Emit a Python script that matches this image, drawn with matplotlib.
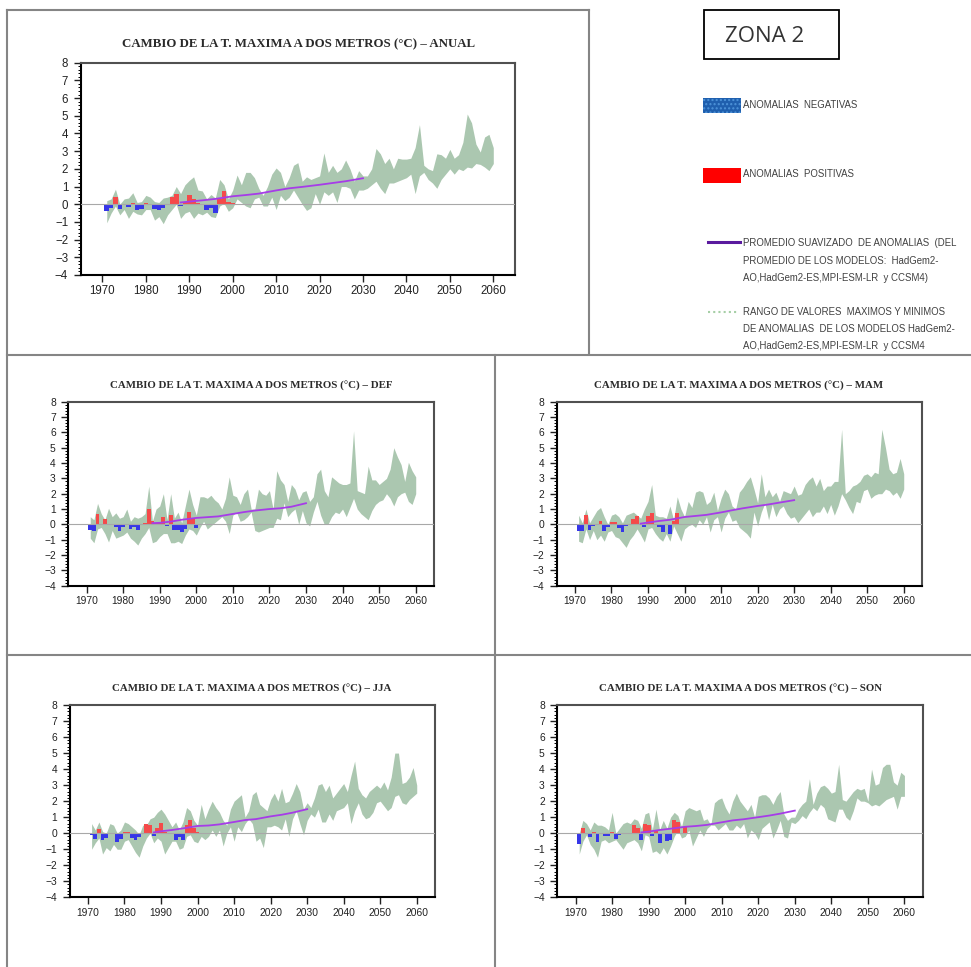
import numpy as np
import matplotlib.pyplot as plt
from matplotlib.lines import Line2D
from matplotlib.patches import Rectangle
from matplotlib.ticker import MultipleLocator

W, H = 971, 967

# ---- data ----
years_bar = list(range(1971, 2001))
years_band = list(range(1971, 2061))
years_smooth = [1988, 1990, 1993, 1996, 2000, 2003, 2006, 2010, 2013, 2016, 2020, 2023, 2026, 2030]

# ANUAL
bars_anual = [-0.4, -0.2, 0.4, -0.27, 0.0, -0.15, 0.05, -0.35, -0.25, 0.05,
              0.03, -0.25, -0.3, -0.2, 0.02, 0.4, 0.6, -0.1, 0.1, 0.5,
              0.3, 0.05, 0.0, -0.35, -0.2, -0.5, 0.3, 0.75, 0.15, 0.05]
hi_anual = [0.2, 0.3, 0.85, 0.0, 0.3, 0.35, 0.65, 0.1, 0.15, 0.5,
            0.4, 0.15, 0.1, 0.35, 0.4, 0.5, 1.0, 0.6, 1.1, 1.35,
            1.55, 0.8, 0.75, 0.3, 0.55, 0.35, 1.4, 1.1, 0.3, 0.8,
            1.65, 1.1, 1.8, 1.8, 1.5, 0.9, 0.5, 1.0, 1.7, 2.05,
            1.8, 1.0, 1.5, 2.2, 2.35, 1.3, 1.55, 1.4, 1.5, 1.6,
            2.9, 1.8, 2.2, 1.8, 2.0, 2.5, 2.0, 1.3, 1.9, 1.6,
            1.6, 2.0, 3.15, 2.85, 2.3, 2.6, 2.0, 2.6, 2.55, 2.55,
            2.6, 3.2, 4.5, 2.2, 2.0, 1.9, 2.85, 2.8, 2.6, 3.1,
            2.6, 2.8, 3.5, 5.1, 4.6, 3.4, 2.95, 3.8, 3.95, 3.2]
lo_anual = [-1.05, -0.5, -0.1, -0.6, -0.3, -0.8, -0.4, -0.55, -0.6, -0.3,
            -0.3, -0.9, -0.7, -1.1, -0.6, -0.3, 0.0, -0.8, -0.5, -0.4,
            -0.8, -0.5, -0.6, -0.45, -0.7, -0.75, -0.1, 0.05, -0.4, -0.2,
            0.3, 0.1, -0.1, -0.2, 0.3, 0.4, -0.1, -0.1, 0.4, -0.3,
            0.5, 0.2, 0.4, 0.8, 0.4, 0.0, -0.35, -0.2, 0.6, 0.0,
            0.7, 0.5, 0.7, 0.1, 1.0, 1.0, 0.9, 0.3, 0.8, 0.8,
            0.9, 1.1, 1.3, 0.9, 0.6, 1.2, 1.2, 1.3, 1.4, 1.5,
            1.7, 0.6, 1.6, 1.8, 1.4, 1.2, 0.9, 1.4, 1.7, 2.0,
            1.7, 2.0, 1.9, 2.1, 2.05, 2.3, 2.25, 2.1, 1.9, 2.3]
smooth_anual = [0.1, 0.15, 0.22, 0.3, 0.45, 0.52, 0.6, 0.78, 0.9, 0.98, 1.1, 1.2, 1.3, 1.47]

# DEF
bars_def = [-0.37, -0.45, 0.7, 0.0, 0.35, -0.05, 0.0, -0.2, -0.45, -0.2,
            0.0, -0.3, -0.15, -0.35, 0.0, 0.1, 1.0, 0.2, 0.1, 0.1,
            0.5, -0.1, 0.6, -0.35, -0.35, -0.5, -0.3, 0.8, 0.4, -0.25]
hi_def = [0.5, 0.3, 1.37, 0.7, 0.3, 1.05, 0.5, 0.75, 0.4, 0.5,
          1.0, 0.2, 0.5, 0.4, 0.5, 0.7, 2.5, 0.2, 1.0, 1.2,
          2.0, 0.3, 2.0, 0.4, 0.8, 0.1, 1.2, 2.3, 1.3, 0.6,
          1.8, 1.8, 1.7, 1.9, 1.6, 1.4, 1.0, 1.7, 3.1, 1.9,
          1.8, 1.3, 2.0, 2.3, 1.0, 1.0, 2.3, 2.0, 1.9, 2.2,
          1.0, 3.5, 2.9, 2.6, 1.5, 2.6, 2.3, 1.6, 2.1, 2.2,
          1.5, 1.8, 3.3, 3.6, 2.2, 1.8, 3.1, 2.9, 2.7, 2.6,
          2.6, 2.7, 6.1, 2.2, 2.1, 2.0, 3.8, 2.9, 2.9, 2.6,
          2.8, 3.0, 3.6, 5.0, 4.4, 3.9, 2.8, 4.05, 3.5, 3.1]
lo_def = [-0.9, -1.2, -0.3, -0.2, -0.6, -1.15, -0.4, -0.9, -0.8, -0.7,
          -0.5, -0.9, -1.1, -1.35, -0.9, -0.6, -0.2, -1.2, -1.1, -0.8,
          -0.6, -0.6, -1.2, -1.2, -1.1, -1.25, -0.7, -0.3, -0.4, -0.7,
          -0.2, 0.2, -0.3, -0.1, 0.1, 0.3, 0.5, 0.2, -0.6, 0.6,
          0.8, 0.2, 0.3, 0.5, 0.8, -0.4, -0.5, -0.4, -0.3, -0.2,
          -0.2, 0.4, 0.3, 1.4, 0.5, 0.8, 1.0, 0.0, 0.9, 0.1,
          -0.1, 0.8, 1.5, 0.6, 0.0, 0.0, 0.5, 0.8, 0.7, 1.0,
          0.5, 1.1, 1.7, 1.0, 0.7, 0.5, 0.3, 0.9, 1.3, 1.5,
          1.6, 2.0, 1.7, 1.2, 1.8, 2.0, 2.1, 1.5, 1.3, 2.0]
smooth_def = [0.08, 0.1, 0.18, 0.3, 0.42, 0.47, 0.52, 0.68, 0.8, 0.9, 1.0, 1.05, 1.15, 1.38]

# MAM
bars_mam = [-0.45, -0.4, 0.6, -0.35, -0.1, 0.0, 0.2, -0.45, -0.2, 0.15,
            0.15, -0.25, -0.5, -0.1, 0.0, 0.35, 0.55, 0.05, -0.15, 0.55,
            0.75, 0.0, -0.2, -0.5, 0.0, -0.6, 0.2, 0.75, 0.0, 0.05]
hi_mam = [0.6, 0.1, 1.0, 0.1, 0.5, 0.9, 1.1, 0.5, 0.0, 0.6,
          0.7, 0.5, 0.1, 0.6, 0.7, 0.8, 0.6, 0.4, 1.0, 1.5,
          2.6, 0.6, 0.5, 0.5, 0.4, 1.2, 0.3, 1.8, 1.0, 0.5,
          1.5, 1.1, 2.1, 2.2, 2.1, 1.3, 1.5, 2.1, 0.9, 1.7,
          2.3, 2.0, 1.2, 1.0, 2.1, 2.4, 2.8, 3.1, 2.3, 1.4,
          3.3, 1.8, 2.3, 1.8, 2.1, 1.5, 2.2, 2.1, 2.0, 2.5,
          1.9, 2.0, 2.6, 2.9, 3.1, 2.5, 3.0, 2.2, 2.5, 2.5,
          2.8, 2.8, 6.2, 2.0, 2.2, 2.5, 2.6, 2.8, 3.2, 3.3,
          3.1, 3.4, 3.3, 6.2, 5.0, 3.6, 3.3, 3.4, 4.3, 3.3]
lo_mam = [-1.1, -1.2, -0.3, -1.0, -0.4, -1.0, -0.7, -1.1, -0.5, -0.4,
          -0.8, -0.9, -1.2, -1.5, -1.0, -0.7, -0.3, -0.7, -1.15, -0.3,
          -0.2, -0.6, -0.9, -1.1, -0.6, -1.1, -0.1, -0.6, -1.1, -0.3,
          -0.1, 0.0, -0.2, 0.3, 0.0, 0.5, -0.5, 0.3, 0.5, -0.5,
          0.4, 0.8, 0.2, 0.3, -0.2, -0.4, -0.6, -0.9, 0.8, -0.1,
          0.8, 1.4, 0.3, 1.3, 0.5, 1.0, 1.2, 0.7, 0.4, 0.5,
          0.1, 0.4, 0.7, 1.0, 0.5, 0.8, 0.8, 1.2, 0.7, 1.3,
          0.6, 1.2, 2.0, 1.6, 1.1, 0.7, 1.5, 1.4, 2.2, 2.3,
          1.7, 1.9, 2.0, 2.0, 2.3, 2.2, 1.9, 2.1, 1.7, 2.3]
smooth_mam = [0.05, 0.12, 0.22, 0.3, 0.48, 0.55, 0.62, 0.78, 0.92, 1.05, 1.2, 1.3, 1.42, 1.58]

# JJA
bars_jja = [-0.1, -0.35, 0.25, -0.45, -0.3, 0.0, -0.05, -0.55, -0.35, 0.1,
            0.05, -0.3, -0.45, -0.25, 0.0, 0.6, 0.5, -0.15, 0.3, 0.65,
            0.1, 0.0, 0.0, -0.4, -0.25, -0.45, 0.5, 0.8, 0.35, 0.1]
hi_jja = [0.6, 0.2, 0.7, 0.1, 0.0, 0.6, 0.5, 0.0, 0.2, 0.7,
          0.6, 0.4, 0.2, -0.1, 0.5, 0.5, 0.9, 1.0, 1.3, 1.5,
          1.2, 0.8, 0.4, 0.7, 0.2, 0.7, 1.6, 1.4, 0.8, 0.5,
          1.8, 0.9, 1.5, 2.0, 1.6, 1.3, 0.8, 0.5, 1.5, 2.0,
          2.2, 2.4, 1.0, 1.4, 2.4, 2.6, 1.8, 1.6, 1.4, 2.1,
          2.5, 2.0, 2.8, 1.9, 2.0, 2.5, 3.1, 2.6, 1.5, 1.9,
          1.6, 2.2, 3.0, 3.1, 2.6, 3.0, 2.2, 2.5, 2.8, 3.1,
          2.6, 3.6, 4.5, 2.8, 2.4, 2.2, 2.6, 2.8, 3.0, 2.8,
          3.2, 2.7, 3.5, 5.0, 5.0, 3.1, 3.2, 3.5, 4.1, 3.0]
lo_jja = [-1.0, -0.6, -0.3, -1.3, -0.9, -1.1, -0.7, -1.0, -1.0, -0.5,
          -0.4, -0.8, -1.2, -1.5, -0.8, -0.3, 0.0, -0.6, -0.3, -0.5,
          -1.3, -0.9, -0.5, -0.5, -1.0, -0.9, -0.2, -0.1, -0.5, -0.6,
          -0.2, -0.4, -0.2, 0.2, -0.2, 0.2, -0.8, 0.0, 0.4, -0.5,
          0.4, 0.1, 0.6, 0.9, 0.6, -0.5, -0.3, -0.9, 0.4, 0.4,
          0.5, 0.4, 0.2, 0.9, -0.2, 0.9, 1.4, 0.6, -0.1, 0.8,
          1.2, 1.0, 1.5, 0.7, 0.7, 1.2, 0.8, 1.4, 1.5, 1.6,
          1.9, 0.6, 1.4, 1.9, 1.2, 0.9, 1.0, 1.3, 1.9, 2.0,
          1.7, 1.4, 1.6, 2.3, 2.4, 1.9, 1.8, 2.1, 2.3, 2.5]
smooth_jja = [0.05, 0.12, 0.2, 0.3, 0.45, 0.48, 0.55, 0.7, 0.82, 0.88, 1.05, 1.15, 1.28, 1.5]

# SON
bars_son = [-0.7, 0.35, 0.0, -0.25, 0.05, -0.55, 0.0, -0.15, -0.15, 0.1,
            -0.35, -0.1, -0.05, -0.05, 0.0, 0.5, 0.3, -0.4, 0.55, 0.5,
            -0.15, 0.2, -0.6, 0.0, -0.5, -0.45, 0.85, 0.7, -0.05, 0.4]
hi_son = [0.0, 0.8, 0.6, 0.2, 0.7, 0.5, 0.5, 0.4, 0.2, 1.3,
          0.0, 0.3, 0.6, 0.7, 0.6, 0.9, 0.8, 0.3, 1.2, 1.3,
          0.2, 1.5, 0.2, 0.8, 0.3, 1.0, 1.3, 1.1, 0.4, 1.4,
          1.6, 1.5, 1.4, 1.5, 0.8, 0.9, 0.5, 1.9, 2.1, 2.2,
          1.6, 1.2, 2.0, 2.5, 2.0, 1.7, 1.4, 1.8, 1.0, 2.3,
          2.4, 2.4, 2.2, 1.8, 2.3, 2.6, 1.2, 0.8, 1.0, 1.0,
          1.5, 1.8, 2.0, 3.4, 1.8, 2.5, 2.9, 3.0, 2.8, 2.5,
          2.6, 4.3, 2.1, 2.0, 2.3, 2.6, 2.8, 2.7, 2.8, 2.0,
          4.0, 3.0, 3.1, 4.1, 4.3, 4.3, 3.2, 3.0, 3.8, 3.6]
lo_son = [-1.3, -0.5, -0.1, -0.7, -1.0, -1.5, -0.5, -0.4, -0.6, -0.5,
          -0.4, -0.7, -1.0, -0.6, -0.5, -0.4, -0.6, -1.1, -0.1, -0.2,
          -1.2, -1.1, -1.3, -0.9, -1.3, -0.8, -0.2, 0.2, -0.3, -0.2,
          0.2, -0.8, -0.3, 0.2, -0.2, 0.3, 0.5, 0.5, 0.2, 0.4,
          0.6, 0.2, 0.2, 0.5, 0.3, 0.6, -0.3, 0.2, 0.0, -0.4,
          0.3, 0.5, 0.7, -0.3, 0.2, 0.8, -0.2, -0.3, 0.7, 0.6,
          0.8, 1.1, 0.9, 1.3, 1.6, 1.4, 1.8, 1.6, 0.9, 0.8,
          0.7, 1.5, 1.5, 1.0, 0.8, 1.4, 2.2, 2.0, 2.0, 1.9,
          1.7, 1.8, 1.7, 1.9, 2.1, 2.2, 2.3, 1.5, 2.3, 2.3]
smooth_son = [0.05, 0.1, 0.2, 0.28, 0.4, 0.45, 0.52, 0.68, 0.8, 0.87, 1.0, 1.1, 1.22, 1.41]

xticks = list(range(1970, 2061, 10))

title_base = 'CAMBIO DE LA T. MAXIMA A DOS METROS (\u00b0C) \u2013 '

legend_neg = 'ANOMALIAS  NEGATIVAS'
legend_pos = 'ANOMALIAS  POSITIVAS'
legend_smooth = ['PROMEDIO SUAVIZADO  DE ANOMALIAS  (DEL',
                 'PROMEDIO DE LOS MODELOS:  HadGem2-',
                 'AO,HadGem2-ES,MPI-ESM-LR  y CCSM4)']
legend_range = ['RANGO DE VALORES  MAXIMOS Y MINIMOS',
                'DE ANOMALIAS  DE LOS MODELOS HadGem2-',
                'AO,HadGem2-ES,MPI-ESM-LR  y CCSM4']

# panel: name, data, axes box in pixels (left, top, right, bottom), title centre, font sizes
panels = [
    ('ANUAL', bars_anual, hi_anual, lo_anual, smooth_anual, (80.7, 62.7, 515, 275), (298, 44.5), 9.3, 8.3),
    ('DEF', bars_def, hi_def, lo_def, smooth_def, (68.3, 401.7, 434, 585.7), (251, 386), 7.85, 7.4),
    ('MAM', bars_mam, hi_mam, lo_mam, smooth_mam, (556.7, 401.7, 922, 585.7), (739, 386), 7.85, 7.4),
    ('JJA', bars_jja, hi_jja, lo_jja, smooth_jja, (69.7, 705, 435, 897.3), (252, 688.7), 7.85, 7.4),
    ('SON', bars_son, hi_son, lo_son, smooth_son, (557.3, 705, 922.7, 897.3), (740, 688.7), 7.85, 7.4),
]


def fx(px):
    return px / W


def fy(py):
    return 1 - py / H


fig = plt.figure(figsize=(W / 100, H / 100), dpi=100)
fig.patch.set_facecolor('white')

for name, bars, hi, lo, smooth, box, tpos, tsize, lsize in panels:
    l, t, r, b = box
    ax = fig.add_axes([fx(l), fy(b), (r - l) / W, (b - t) / H])
    ax.fill_between(years_band, lo, hi, color='#abc7b0', lw=0, zorder=1)
    cols = ['#3636e8' if v < 0 else '#f44a4a' for v in bars]
    ax.bar(years_bar, bars, width=1.05, color=cols, lw=0, zorder=2)
    ax.axhline(0, color='#a8a8a8', lw=0.8, zorder=3)
    ax.plot(years_smooth, smooth, color='#a63ce8', lw=1.3, zorder=4)
    ax.set_xlim(1965, 2065)
    ax.set_ylim(-4, 8)
    ax.set_xticks(xticks)
    ax.set_yticks(range(-4, 9))
    ax.yaxis.set_minor_locator(MultipleLocator(0.2))
    ax.tick_params(axis='both', which='major', direction='out', length=5, width=1,
                   labelsize=lsize, pad=2.5, colors='#222222')
    ax.tick_params(axis='y', which='minor', direction='out', length=2.5, width=0.7)
    ax.tick_params(axis='y', pad=4)
    for lab in ax.get_xticklabels() + ax.get_yticklabels():
        lab.set_fontfamily('Liberation Sans')
    for side in ['left', 'bottom']:
        ax.spines[side].set_color('black')
        ax.spines[side].set_linewidth(1.5)
    for side in ['top', 'right']:
        ax.spines[side].set_color('#505050')
        ax.spines[side].set_linewidth(1.5)
    fig.text(fx(tpos[0]), fy(tpos[1]), title_base + name, ha='center', va='center',
             fontsize=tsize, fontweight='bold', family='Liberation Serif', color='#2a2a2a')

# frames around the panels
fc = '#858585'
flw = 1.5
frame_lines = [
    ((7, 589), (10, 10)), ((7, 7), (10, 967)), ((589, 589), (10, 354)),
    ((7, 971), (354.5, 354.5)), ((495, 495), (354.5, 967)), ((7, 971), (655, 655)),
]
for xs, ys in frame_lines:
    fig.add_artist(Line2D([fx(x) for x in xs], [fy(y) for y in ys], color=fc, lw=flw))

# ZONA 2 box
fig.add_artist(Rectangle((fx(703.5), fy(59)), (839 - 703.5) / W, (59 - 9.5) / H,
                         fill=False, ec='black', lw=1.3))
fig.text(fx(725), fy(36), 'ZONA 2', ha='left', va='center', fontsize=16,
         family='Open Sans', color='#333333')

# legend
lc = '#404040'
lfs = 6.9
fig.add_artist(Rectangle((fx(703), fy(113.3)), 38 / W, 15 / H, fc='#1f5fae',
                         ec='#4d93d9', hatch='....', lw=0))
fig.text(fx(743), fy(105), legend_neg, ha='left', va='center',
         fontsize=lfs, family='Liberation Sans', color=lc)
fig.add_artist(Rectangle((fx(703), fy(182.7)), 38 / W, 15 / H, fc='#ff0000', lw=0))
fig.text(fx(743), fy(174), legend_pos, ha='left', va='center',
         fontsize=lfs, family='Liberation Sans', color=lc)
fig.add_artist(Line2D([fx(708), fx(740)], [fy(242.3), fy(242.3)], color='#5a1a9e', lw=2.2))
for i, s in enumerate(legend_smooth):
    fig.text(fx(743), fy(243.3 + 17.2 * i), s, ha='left', va='center',
             fontsize=lfs, family='Liberation Sans', color=lc)
fig.add_artist(Line2D([fx(708), fx(738)], [fy(311.7), fy(311.7)], color='#a6cfa6',
                      lw=1.5, ls=(0, (1, 1.5))))
for i, s in enumerate(legend_range):
    fig.text(fx(743), fy(311.7 + 17.2 * i), s, ha='left', va='center',
             fontsize=lfs, family='Liberation Sans', color=lc)

fig.savefig('out.png', dpi=100, facecolor='white')
